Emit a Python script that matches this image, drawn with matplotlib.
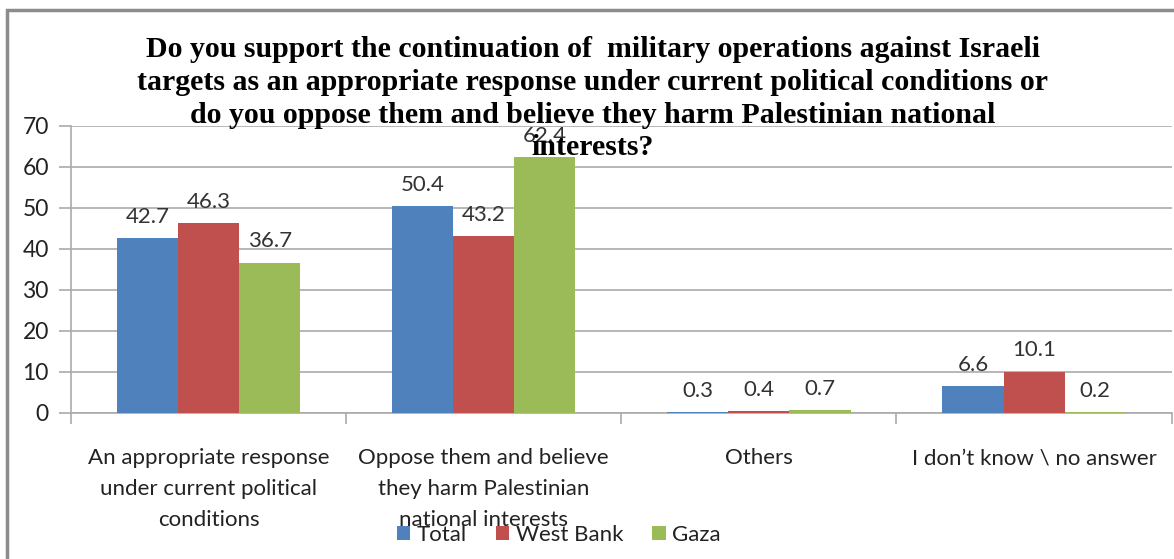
import numpy as np
import matplotlib
matplotlib.use('Agg')
import matplotlib.pyplot as plt
from matplotlib.patches import Rectangle

categories = ['An appropriate response\nunder current political\nconditions',
              'Oppose them and believe\nthey harm Palestinian\nnational interests',
              'Others',
              'I don\u2019t know \\ no answer']
series_names = ['Total', 'West Bank', 'Gaza']
total = [42.7, 50.4, 0.3, 6.6]
west_bank = [46.3, 43.2, 0.4, 10.1]
gaza = [36.7, 62.4, 0.7, 0.2]
colors = ['#4F81BD', '#C0504D', '#9BBB59']
title = ('Do you support the continuation of  military operations against Israeli\n'
         'targets as an appropriate response under current political conditions or\n'
         'do you oppose them and believe they harm Palestinian national\n'
         'interests?')

plt.rcParams['font.family'] = ['Lato', 'DejaVu Sans']

fig = plt.figure(figsize=(11.74, 5.59), dpi=100)
ax = fig.add_axes([0.0605, 0.2612, 0.9375, 0.5134])

x = np.arange(len(categories))
w = 0.222
for i, (vals, name) in enumerate(zip([total, west_bank, gaza], series_names)):
    pos = x + (i - 1) * w
    bars = ax.bar(pos, vals, width=w, color=colors[i], label=name, zorder=3)
    for b, v in zip(bars, vals):
        ax.annotate('{:.1f}'.format(v), (b.get_x() + b.get_width() / 2, v),
                    xytext=(0, 8), textcoords='offset points',
                    ha='center', va='bottom', fontsize=16, color='#333333', zorder=4)

ax.set_xlim(-0.5, len(categories) - 0.5)
ax.set_ylim(0, 70)
ax.set_yticks(range(0, 71, 10))
ax.yaxis.grid(True, color='#AAAAAA', linewidth=1.2, zorder=0)
ax.tick_params(axis='y', length=9, color='#AAAAAA', width=1.2, labelsize=16.5, pad=7,
               labelcolor='#222222')

ax.set_xticks(x)
ax.set_xticklabels(categories, fontsize=16, linespacing=1.68, color='#222222')
ax.tick_params(axis='x', which='major', length=0, pad=25.5)
ax.set_xticks(np.arange(-0.5, len(categories)), minor=True)
ax.tick_params(axis='x', which='minor', length=8, color='#AAAAAA', width=1.2)

for s in ['top', 'right']:
    ax.spines[s].set_visible(False)
for s in ['left', 'bottom']:
    ax.spines[s].set_color('#AAAAAA')
    ax.spines[s].set_linewidth(1.2)

fig.text(0.505, 0.936, title, ha='center', va='top', fontsize=21.5, fontweight='bold',
         family='Liberation Serif', linespacing=1.28, color='black')

handles, labels = ax.get_legend_handles_labels()
fig.legend(handles, labels, loc='center', bbox_to_anchor=(0.476, 0.043), ncol=3,
           frameon=False, fontsize=16, handlelength=0.6, handleheight=0.6,
           handletextpad=0.3, columnspacing=1.3, labelcolor='#222222')

fig.patches.append(Rectangle((7 / 1174, -0.1), 1.2, 1.1 - 10 / 559, transform=fig.transFigure,
                             fill=False, edgecolor='#8C8C8C', linewidth=2.5))

fig.savefig('out.png', dpi=100)
